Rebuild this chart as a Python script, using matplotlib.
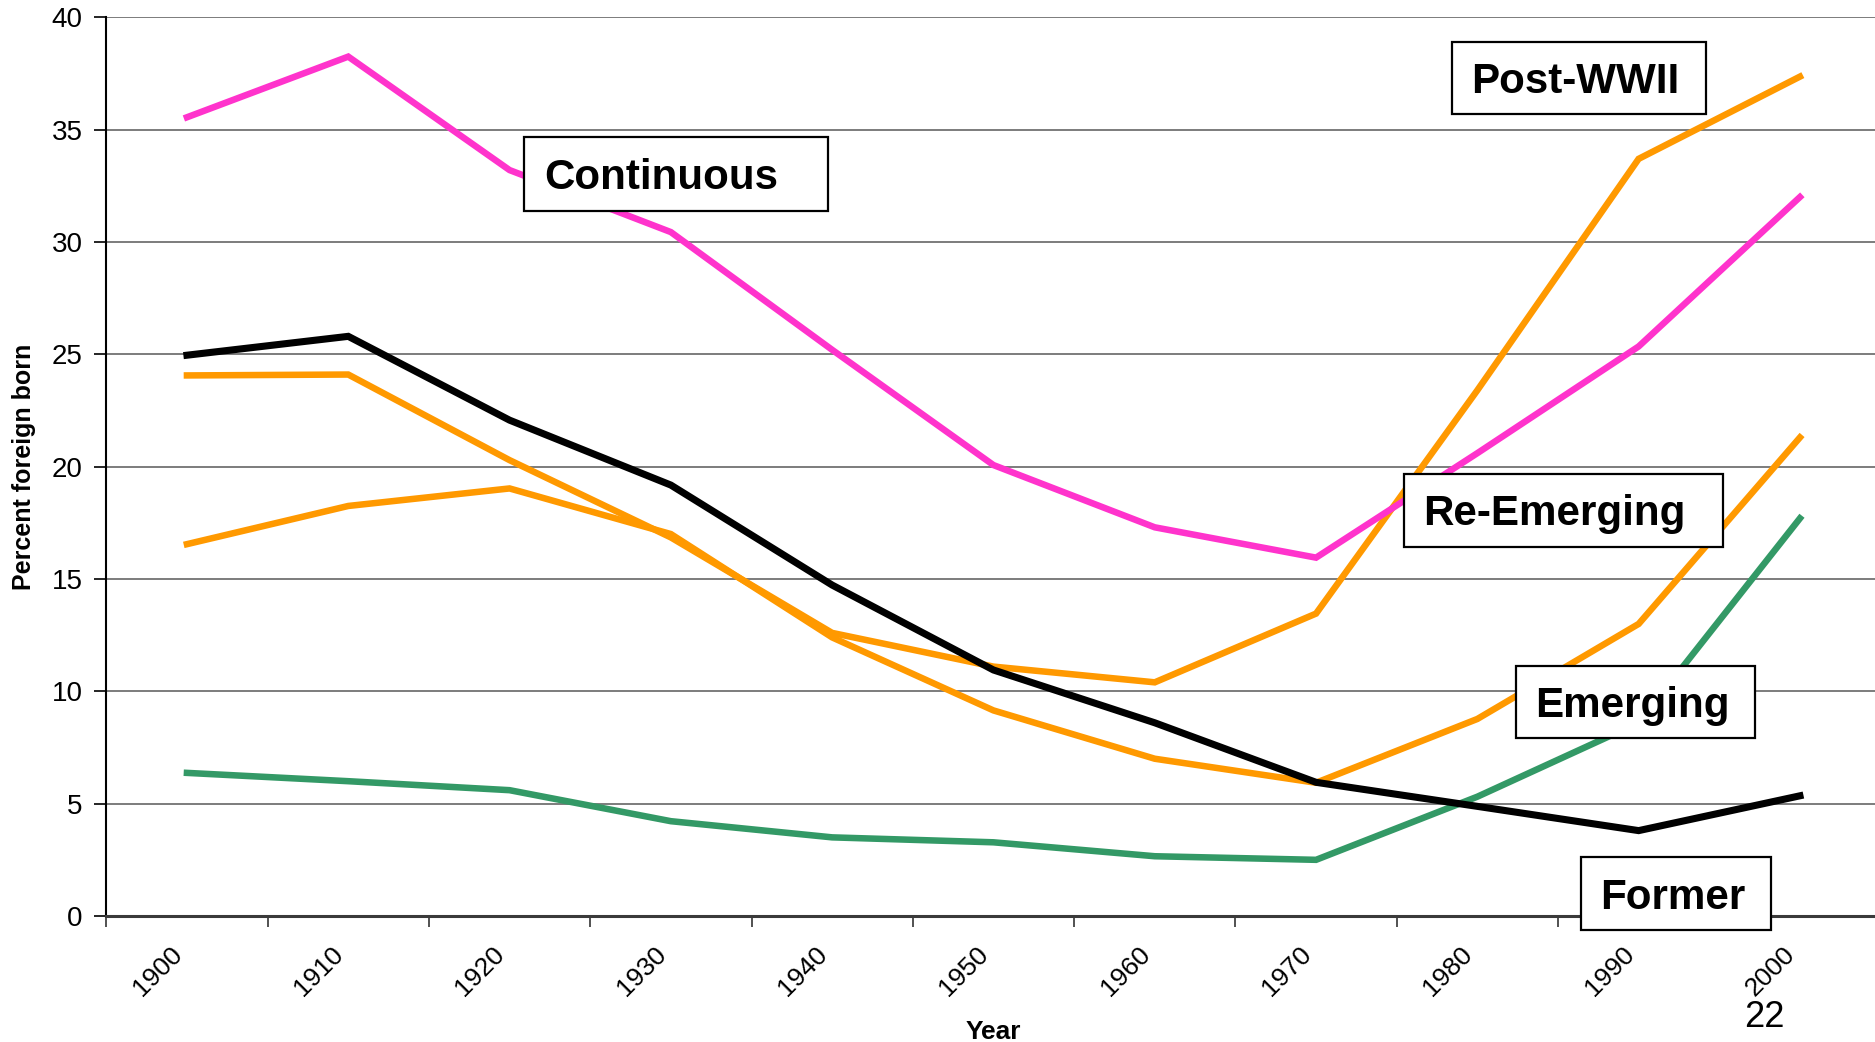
import matplotlib
matplotlib.use('Agg')
import matplotlib.pyplot as plt
from matplotlib.patches import Rectangle
from matplotlib.ticker import FixedLocator, NullFormatter

plt.rcParams['font.family'] = ['Liberation Sans', 'DejaVu Sans']

# ---- data ----
years = ['1900', '1910', '1920', '1930', '1940', '1950', '1960', '1970', '1980', '1990', '2000']
continuous = [35.55, 38.25, 33.2, 30.44, 25.2, 20.07, 17.3, 15.95, 20.6, 25.35, 32.0]
former = [24.96, 25.8, 22.07, 19.18, 14.73, 10.95, 8.6, 5.95, 4.88, 3.8, 5.35]
post_wwii = [24.06, 24.1, 20.29, 16.85, 12.6, 11.1, 10.4, 13.46, 23.4, 33.7, 37.36]
re_emerging = [16.55, 18.25, 19.03, 17.0, 12.4, 9.15, 7.0, 5.93, 8.77, 13.0, 21.3]
emerging = [6.37, 6.0, 5.6, 4.22, 3.5, 3.28, 2.66, 2.5, 5.31, 8.6, 17.7]
yticks = [0, 5, 10, 15, 20, 25, 30, 35, 40]

W, H = 1875, 1042
fig = plt.figure(figsize=(W / 100, H / 100), dpi=100)
left, right, top, bottom = 106.3, 1880.6, 17.3, 916.0
ax = fig.add_axes([left / W, 1 - bottom / H, (right - left) / W, (bottom - top) / H])

x = list(range(len(years)))
lw = 4.7
ax.plot(x, post_wwii, color='#FF9900', lw=lw, solid_joinstyle='miter', zorder=3)
ax.plot(x, re_emerging, color='#FF9900', lw=lw, solid_joinstyle='miter', zorder=3)
ax.plot(x, continuous, color='#FF33CC', lw=lw, solid_joinstyle='miter', zorder=3)
ax.plot(x, emerging, color='#339966', lw=lw, solid_joinstyle='miter', zorder=3)
ax.plot(x, former, color='#000000', lw=5.1, solid_joinstyle='miter', zorder=4)

ax.set_xlim(-0.5, len(years) - 0.5)
ax.set_ylim(0, 40)

# x ticks at category boundaries, labels at centers
ax.xaxis.set_major_locator(FixedLocator([i - 0.5 for i in range(len(years) + 1)]))
ax.xaxis.set_major_formatter(NullFormatter())
ax.xaxis.set_minor_locator(FixedLocator(x))
ax.set_xticklabels(years, minor=True, rotation=45, ha='right', va='top', fontsize=19)
ax.tick_params(axis='x', which='major', direction='out', length=8, width=1.2, color='#333333')
ax.tick_params(axis='x', which='minor', length=0, pad=19)

ax.set_yticks(yticks)
ax.set_yticklabels([str(v) for v in yticks], fontsize=20)
ax.tick_params(axis='y', direction='out', length=9, width=1.2, pad=8)

ax.yaxis.grid(True, color='#666666', lw=1.2)
ax.set_axisbelow(True)

for s in ['top', 'right']:
    ax.spines[s].set_visible(False)
ax.spines['left'].set_linewidth(1.5)
ax.spines['bottom'].set_linewidth(2.2)
ax.spines['bottom'].set_color('#3a3a3a')

ax.set_ylabel('Percent foreign born', fontsize=18, fontweight='bold')
ax.yaxis.set_label_coords(-0.0396, 0.5)

fig.text(993.5 / W, 1 - 1039 / H, 'Year', fontsize=19, fontweight='bold',
         ha='center', va='baseline')

# ---- label boxes (pixel geometry) ----
boxes = [
    ('Continuous', 523.8, 137.5, 827.5, 210.5, 544.0),
    ('Post-WWII', 1451.7, 41.9, 1706.4, 113.6, 1470.8),
    ('Re-Emerging', 1403.9, 473.5, 1723.2, 546.5, 1423.0),
    ('Emerging', 1516.3, 666.0, 1755.4, 737.8, 1535.4),
    ('Former', 1580.9, 857.4, 1771.0, 930.3, 1600.0),
]
for txt, x0, y0, x1, y1, tx in boxes:
    r = Rectangle((x0 / W, 1 - y1 / H), (x1 - x0) / W, (y1 - y0) / H,
                  transform=fig.transFigure, facecolor='white', edgecolor='black',
                  lw=1.6, zorder=10)
    fig.add_artist(r)
    fig.text(tx / W, 1 - ((y0 + y1) / 2 + 3.8) / H, txt, fontsize=30.3, fontweight='bold',
             ha='left', va='center', zorder=11)

fig.text(1764 / W, 1 - 1017.6 / H, '22', fontsize=26, ha='center', va='center')

fig.savefig('out.png', dpi=100, facecolor='white')
